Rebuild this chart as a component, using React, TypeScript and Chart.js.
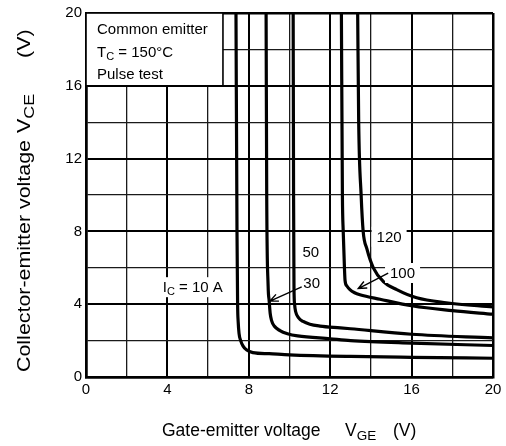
import { useEffect, useRef } from 'react';
import { Chart, registerables } from 'chart.js';

Chart.register(...registerables);

// ---- data ----
const xTickLabels = ['0', '4', '8', '12', '16', '20'];
const yTickLabels = ['0', '4', '8', '12', '16', '20'];

const currentLabels = ['10', '30', '50', '100', '120'];

// I_C = 10 A
const vge10 = [7.37, 7.42, 7.45, 7.48, 7.52, 7.6, 7.72, 7.9, 8.2, 9, 10, 13, 16, 20];
const vce10 = [20, 8, 4, 3, 2.4, 2.0, 1.7, 1.48, 1.34, 1.28, 1.22, 1.13, 1.08, 1.03];
// I_C = 30 A
const vge30 = [8.85, 8.88, 8.95, 9.0, 9.05, 9.12, 9.25, 9.53, 9.9, 10.4, 12, 13, 16, 20];
const vce30 = [20, 10, 5, 4.2, 3.5, 3.1, 2.8, 2.55, 2.38, 2.26, 2.1, 2.0, 1.86, 1.73];
// I_C = 50 A
const vge50 = [10.18, 10.2, 10.22, 10.25, 10.3, 10.45, 10.67, 11.0, 11.5, 12.5, 13, 16, 20];
const vce50 = [20, 10, 5, 4.0, 3.6, 3.25, 3.05, 2.9, 2.8, 2.7, 2.65, 2.35, 2.15];
// I_C = 100 A
const vge100 = [12.55, 12.6, 12.64, 12.7, 12.73, 12.82, 12.97, 13.2, 13.46, 14.45, 16.07, 18, 20];
const vce100 = [20, 10, 8, 6, 5.3, 5.0, 4.8, 4.63, 4.52, 4.27, 3.9, 3.65, 3.45];
// I_C = 120 A
const vge120 = [13.35, 13.4, 13.52, 13.62, 13.8, 14.12, 14.6, 15.27, 16.25, 17.7, 20];
const vce120 = [20, 14, 10, 8, 7.05, 6, 5.26, 4.8, 4.35, 4.08, 3.85];

const seriesX = [vge10, vge30, vge50, vge100, vge120];
const seriesY = [vce10, vce30, vce50, vce100, vce120];

const FONT = '"Liberation Sans", Arial, Helvetica, sans-serif';

type Part = { t: string; sub?: boolean };

function partsWidth(ctx: CanvasRenderingContext2D, parts: Part[], size: number, subSize: number) {
  let w = 0;
  for (const p of parts) {
    ctx.font = `${p.sub ? subSize : size}px ${FONT}`;
    w += ctx.measureText(p.t).width;
  }
  return w;
}

function drawParts(
  ctx: CanvasRenderingContext2D,
  parts: Part[],
  x: number,
  y: number,
  size: number,
  subSize: number,
  subDy: number
) {
  let cx = x;
  ctx.textAlign = 'left';
  ctx.textBaseline = 'alphabetic';
  for (const p of parts) {
    ctx.font = `${p.sub ? subSize : size}px ${FONT}`;
    ctx.fillText(p.t, cx, y + (p.sub ? subDy : 0));
    cx += ctx.measureText(p.t).width;
  }
  return cx;
}

function arrow(ctx: CanvasRenderingContext2D, x0: number, y0: number, x1: number, y1: number) {
  const a = Math.atan2(y1 - y0, x1 - x0);
  const L = 9;
  const s = 0.42;
  ctx.beginPath();
  ctx.moveTo(x0, y0);
  ctx.lineTo(x1, y1);
  ctx.moveTo(x1 - L * Math.cos(a - s), y1 - L * Math.sin(a - s));
  ctx.lineTo(x1, y1);
  ctx.lineTo(x1 - L * Math.cos(a + s), y1 - L * Math.sin(a + s));
  ctx.stroke();
}

const annotationPlugin = {
  id: 'annotations',
  afterDatasetsDraw(chart: any) {
    const { ctx, chartArea, scales } = chart;
    const px = (v: number) => scales.x.getPixelForValue(v);
    const py = (v: number) => scales.y.getPixelForValue(v);
    ctx.save();

    // condition box
    const bx0 = chartArea.left;
    const by0 = chartArea.top;
    const bx1 = px(6.73);
    const by1 = py(16);
    ctx.fillStyle = '#fff';
    ctx.fillRect(bx0, by0, bx1 - bx0, by1 - by0);
    ctx.strokeStyle = '#000';
    ctx.lineWidth = 1.6;
    ctx.strokeRect(bx0, by0, bx1 - bx0, by1 - by0);
    ctx.fillStyle = '#000';
    const tx = bx0 + 11;
    drawParts(ctx, [{ t: 'Common emitter' }], tx, by0 + 20.5, 15, 11, 3);
    drawParts(ctx, [{ t: 'T' }, { t: 'C', sub: true }, { t: ' = 150°C' }], tx, by0 + 43.5, 15, 11, 3);
    drawParts(ctx, [{ t: 'Pulse test' }], tx, by0 + 66, 15, 11, 3);

    // curve labels with white background
    const labels: { parts: Part[]; x: number; y: number }[] = [
      { parts: [{ t: 'I' }, { t: 'C', sub: true }, { t: ' = ' + currentLabels[0] + ' A' }], x: 3.77, y: 4.66 },
      { parts: [{ t: currentLabels[2] }], x: 10.64, y: 6.6 },
      { parts: [{ t: currentLabels[1] }], x: 10.68, y: 4.9 },
      { parts: [{ t: currentLabels[4] }], x: 14.28, y: 7.43 },
      { parts: [{ t: currentLabels[3] }], x: 14.94, y: 5.44 },
    ];
    for (const l of labels) {
      const lx = px(l.x);
      const ly = py(l.y);
      const w = partsWidth(ctx, l.parts, 15, 11);
      ctx.fillStyle = '#fff';
      ctx.fillRect(lx - 5, ly - 15, w + 10, 20);
      ctx.fillStyle = '#000';
      drawParts(ctx, l.parts, lx, ly, 15, 11, 3);
    }

    // arrows
    ctx.strokeStyle = '#000';
    ctx.lineWidth = 1.4;
    arrow(ctx, px(10.6), py(4.95), px(9.04), py(4.17));
    arrow(ctx, px(14.85), py(5.71), px(13.38), py(4.86));

    ctx.restore();
  },
  afterDraw(chart: any) {
    const { ctx } = chart;
    ctx.save();
    ctx.fillStyle = '#000';
    // x title
    drawParts(ctx, [{ t: 'Gate-emitter voltage' }], 162, 436, 17.5, 13.5, 4);
    drawParts(ctx, [{ t: 'V' }, { t: 'GE', sub: true }], 345, 436, 17.5, 13.5, 4);
    drawParts(ctx, [{ t: '(V)' }], 393, 436, 17.5, 13.5, 4);

    // y title (rotated, stretched along its length)
    ctx.font = `18px ${FONT}`;
    const w = ctx.measureText('Collector-emitter voltage').width;
    const sx = 232 / w;
    ctx.translate(30, 0);
    ctx.rotate(-Math.PI / 2);
    ctx.scale(sx, 1);
    drawParts(ctx, [{ t: 'Collector-emitter voltage' }], -372 / sx, 0, 18, 15, 4);
    drawParts(ctx, [{ t: 'V' }, { t: 'CE', sub: true }], -133 / sx, 0, 18, 15, 4);
    drawParts(ctx, [{ t: '(V)' }], -58 / sx, 0, 18, 15, 4);
    ctx.restore();
  },
};

const gridColor = (c: any) => {
  const v = c.tick ? c.tick.value : 0;
  return v % 4 === 0 ? '#000' : '#1a1a1a';
};
const gridWidth = (c: any) => {
  const v = c.tick ? c.tick.value : 0;
  if (v === 0 || v === 20) return 2.5;
  return v % 4 === 0 ? 2 : 1.3;
};

export default function App() {
  const ref = useRef<HTMLCanvasElement>(null);

  useEffect(() => {
    document.body.style.margin = '0';
    const datasets = seriesX.map((xs, i) => ({
      label: currentLabels[i] + ' A',
      data: xs.map((x, j) => ({ x, y: seriesY[i][j] })),
      borderColor: '#000',
      borderWidth: 3.2,
      pointRadius: 0,
      fill: false,
      cubicInterpolationMode: 'monotone' as const,
    }));

    const chart = new Chart(ref.current!, {
      type: 'line',
      data: { datasets },
      plugins: [annotationPlugin],
      options: {
        animation: false,
        responsive: false,
        devicePixelRatio: 1,
        layout: { padding: { top: 9, right: 13, left: 0, bottom: 0 } },
        plugins: {
          legend: { display: false },
          tooltip: { enabled: false },
        },
        scales: {
          x: {
            type: 'linear',
            min: 0,
            max: 20,
            ticks: {
              stepSize: 2,
              autoSkip: false,
              maxRotation: 0,
              padding: 4,
              color: '#000',
              font: { size: 15, family: FONT },
              callback: (v: any) => (xTickLabels.includes(String(v)) ? String(v) : ''),
            },
            grid: { color: gridColor, lineWidth: gridWidth, drawTicks: false },
            border: { color: '#000', width: 2.5 },
            afterFit: (s: any) => {
              s.height = 69;
            },
          },
          y: {
            type: 'linear',
            min: 0,
            max: 20,
            ticks: {
              stepSize: 2,
              autoSkip: false,
              padding: 4,
              color: '#000',
              font: { size: 15, family: FONT },
              callback: (v: any) => (yTickLabels.includes(String(v)) ? String(v) : ''),
            },
            grid: { color: gridColor, lineWidth: gridWidth, drawTicks: false },
            border: { color: '#000', width: 2.5 },
            afterFit: (s: any) => {
              s.width = 86;
            },
          },
        },
      },
    });
    return () => chart.destroy();
  }, []);

  return (
    <div style={{ width: 506, height: 446, background: '#fff' }}>
      <canvas ref={ref} width={506} height={446} style={{ display: 'block', width: 506, height: 446 }} />
    </div>
  );
}
